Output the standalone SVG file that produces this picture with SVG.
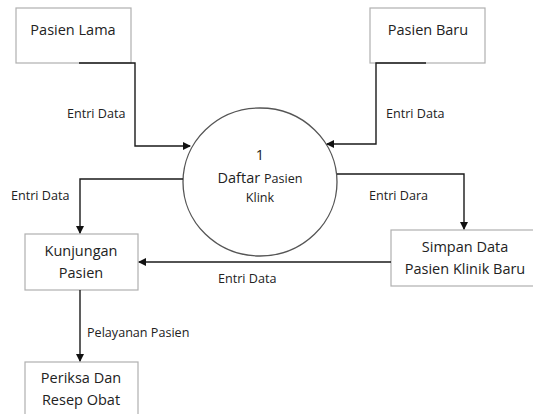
<svg xmlns="http://www.w3.org/2000/svg" width="533" height="414" viewBox="0 0 533 414">
<defs>
<marker id="ah" markerWidth="8" markerHeight="8" refX="7" refY="4" orient="auto" markerUnits="userSpaceOnUse">
<path d="M0,0 L8,4 L0,8 Z" fill="#111"/>
</marker>
<style>
.box{fill:#fff;stroke:#b0b0b0;stroke-width:1.2}
.t{font-family:"Open Sans","Noto Sans",sans-serif;font-size:14.5px;fill:#222;text-anchor:middle}
.l{font-family:"Open Sans","Noto Sans",sans-serif;font-size:12.6px;fill:#222}
.s{font-size:12.6px}
.c{fill:none;stroke:#1a1a1a;stroke-width:1.4}
</style>
</defs>
<rect width="533" height="414" fill="#fff"/>
<g id="pasien-lama"><rect class="box" x="16" y="8" width="115" height="55"/><text class="t" x="73" y="35">Pasien Lama</text></g>
<g id="pasien-baru"><rect class="box" x="370" y="8" width="115" height="55"/><text class="t" x="428" y="35">Pasien Baru</text></g>
<g id="proses-1"><ellipse cx="260" cy="182" rx="77" ry="74" fill="#fff" stroke="#555" stroke-width="1.3"/>
<text class="t" x="260" y="160">1</text>
<text class="t" x="260" y="183">Daftar <tspan class="s">Pasien</tspan></text>
<text class="t s" x="260" y="202">Klink</text></g>
<g id="kunjungan"><rect class="box" x="25" y="234" width="113" height="56"/><text class="t" x="81" y="256">Kunjungan</text><text class="t" x="81" y="278">Pasien</text></g>
<g id="simpan"><rect class="box" x="391" y="230" width="145" height="56"/><text class="t" x="465" y="252">Simpan Data</text><text class="t" x="465" y="274">Pasien Klinik Baru</text></g>
<g id="periksa"><rect class="box" x="25" y="362" width="113" height="60"/><text class="t" x="81" y="383">Periksa Dan</text><text class="t" x="81" y="405">Resep Obat</text></g>
<g id="connectors">
<path class="c" d="M79,63 H135 V146 H190" marker-end="url(#ah)"/>
<path class="c" d="M426,63 H376 V144 H327" marker-end="url(#ah)"/>
<path class="c" d="M183,179 H80 V233" marker-end="url(#ah)"/>
<path class="c" d="M337,174 H464 V229" marker-end="url(#ah)"/>
<path class="c" d="M391,262 H139" marker-end="url(#ah)"/>
<path class="c" d="M80,290 V361" marker-end="url(#ah)"/>
</g>
<g id="labels">
<text class="l" x="67" y="118">Entri Data</text>
<text class="l" x="386" y="118">Entri Data</text>
<text class="l" x="11" y="200">Entri Data</text>
<text class="l" x="369" y="200">Entri Dara</text>
<text class="l" x="218" y="283">Entri Data</text>
<text class="l" x="87" y="337">Pelayanan Pasien</text>
</g>
</svg>
